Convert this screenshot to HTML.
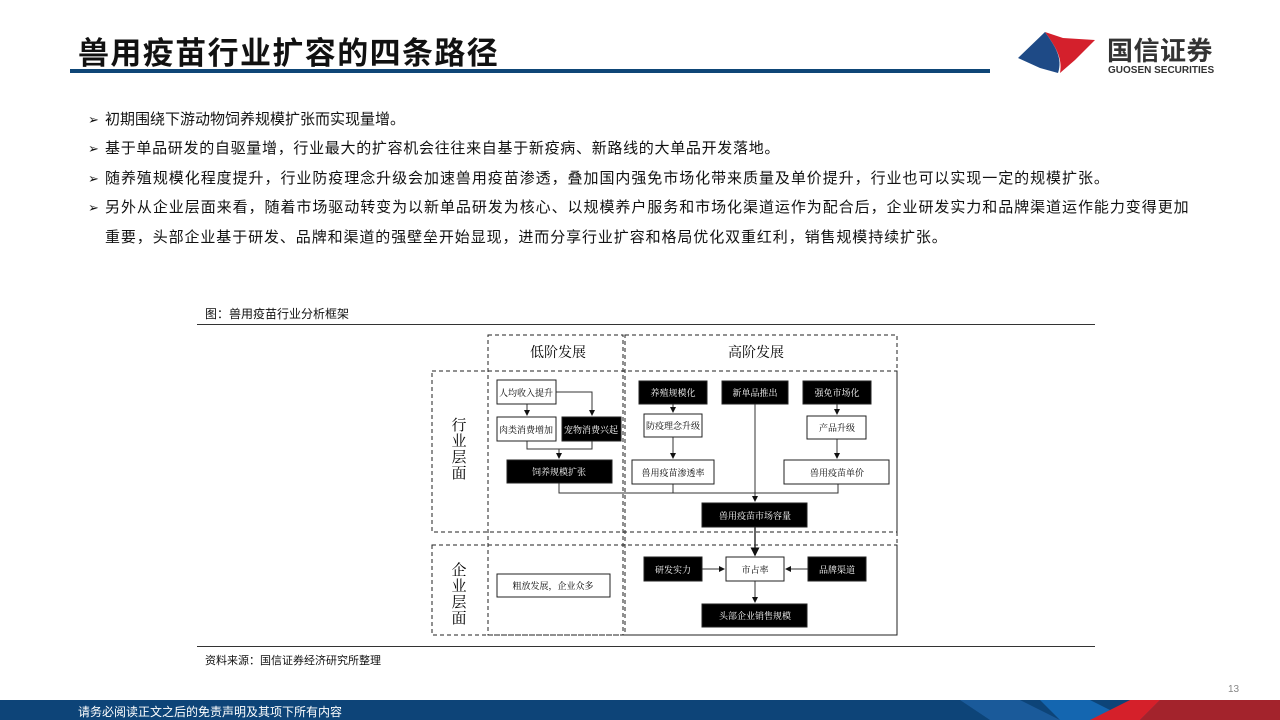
<!DOCTYPE html>
<html><head><meta charset="utf-8"><style>
*{margin:0;padding:0}
body{width:1280px;height:720px;position:relative;background:#fff;overflow:hidden;font-family:"Liberation Sans","Noto Sans CJK SC",sans-serif;color:#111}
.a{position:absolute;white-space:nowrap}
.b{font-size:15px;left:88px}
.b span{display:inline-block;width:17px;font-size:13px}
</style></head><body>
<div class="a" style="left:78px;top:28px;font-size:31px;font-weight:bold;letter-spacing:1.4px">兽用疫苗行业扩容的四条路径</div>
<div class="a" style="left:70px;top:69px;width:920px;height:4px;background:#0e4677"></div>
<svg class="a" style="left:1015px;top:28px" width="85" height="50" viewBox="0 0 85 50">
<path d="M30 4 L48 10 L80 12 L60 32 L45 45 C48 30 40 18 30 4Z" fill="#d4202c"/>
<path d="M30 4 C40 18 48 30 43 45 L25 40 L3 30Z" fill="#1e4a86"/>
</svg>
<div class="a" style="left:1107px;top:31px;font-size:26px;font-weight:bold;color:#333;letter-spacing:0.5px">国信证券</div>
<div class="a" style="left:1108px;top:65px;font-size:10px;font-weight:bold;color:#333">GUOSEN SECURITIES</div>
<div class="a b" style="top:108px"><span>➢</span>初期围绕下游动物饲养规模扩张而实现量增。</div>
<div class="a b" style="top:137px;letter-spacing:0.7px"><span>➢</span>基于单品研发的自驱量增，行业最大的扩容机会往往来自基于新疫病、新路线的大单品开发落地。</div>
<div class="a b" style="top:167px;letter-spacing:0.95px"><span>➢</span>随养殖规模化程度提升，行业防疫理念升级会加速兽用疫苗渗透，叠加国内强免市场化带来质量及单价提升，行业也可以实现一定的规模扩张。</div>
<div class="a b" style="top:196px;letter-spacing:0.95px"><span>➢</span>另外从企业层面来看，随着市场驱动转变为以新单品研发为核心、以规模养户服务和市场化渠道运作为配合后，企业研发实力和品牌渠道运作能力变得更加</div>
<div class="a b" style="top:226px;left:105px;letter-spacing:0.9px">重要，头部企业基于研发、品牌和渠道的强壁垒开始显现，进而分享行业扩容和格局优化双重红利，销售规模持续扩张。</div>
<div class="a" style="left:205px;top:305px;font-size:12px">图：兽用疫苗行业分析框架</div>
<div class="a" style="left:197px;top:324px;width:898px;height:1px;background:#333"></div>
<div class="a" style="left:197px;top:646px;width:898px;height:1px;background:#333"></div>
<div class="a" style="left:205px;top:652px;font-size:11px">资料来源：国信证券经济研究所整理</div>
<svg class="a" style="left:0;top:0" width="1280" height="720" font-family="Liberation Serif,Noto Serif CJK SC,serif">
<defs><marker id="m" markerWidth="6" markerHeight="6" refX="5" refY="3" orient="auto"><path d="M0,0 L6,3 L0,6Z" fill="#111"/></marker></defs>
<g fill="none" stroke="#222" stroke-dasharray="4,3" stroke-width="1">
<rect x="488" y="335" width="135" height="300"/>
<rect x="625" y="335" width="272" height="300"/>
<rect x="432" y="371" width="465" height="161"/>
<rect x="432" y="545" width="465" height="90"/>
</g>
<text x="558" y="357" font-size="14" text-anchor="middle">低阶发展</text>
<text x="756" y="357" font-size="14" text-anchor="middle">高阶发展</text>
<g font-size="15" text-anchor="middle"><text x="459" y="430">行</text><text x="459" y="446">业</text><text x="459" y="462">层</text><text x="459" y="478">面</text>
<text x="459" y="575">企</text><text x="459" y="591">业</text><text x="459" y="607">层</text><text x="459" y="623">面</text></g>
<g stroke="#333" stroke-width="1" fill="none">
<path d="M556 392 H592 V415" marker-end="url(#m)"/>
<path d="M527 404 V415" marker-end="url(#m)"/>
<path d="M527 441 V449 H592 V441 M559 449 V458" marker-end="url(#m)"/>
<path d="M673 404 V412" marker-end="url(#m)"/>
<path d="M673 437 V458" marker-end="url(#m)"/>
<path d="M837 404 V414" marker-end="url(#m)"/>
<path d="M837 439 V458" marker-end="url(#m)"/>
<path d="M559 483 V493 H838 V484 M673 484 V493"/>
<path d="M755 404 V501" marker-end="url(#m)"/>
<path d="M755 527 V555" stroke-width="1.5" marker-end="url(#m)"/>
<path d="M702 569 H724" marker-end="url(#m)"/>
<path d="M808 569 H786" marker-end="url(#m)"/>
<path d="M755 581 V602" marker-end="url(#m)"/>
</g>
<g stroke="#222" stroke-width="1">
<rect x="497" y="380" width="59" height="24" fill="#fff"/>
<rect x="497" y="417" width="59" height="24" fill="#fff"/>
<rect x="562" y="417" width="59" height="24" fill="#000"/>
<rect x="507" y="460" width="105" height="23" fill="#000"/>
<rect x="639" y="381" width="68" height="23" fill="#000"/>
<rect x="644" y="414" width="58" height="23" fill="#fff"/>
<rect x="632" y="460" width="82" height="24" fill="#fff"/>
<rect x="722" y="381" width="66" height="23" fill="#000"/>
<rect x="803" y="381" width="68" height="23" fill="#000"/>
<rect x="807" y="416" width="59" height="23" fill="#fff"/>
<rect x="784" y="460" width="105" height="24" fill="#fff"/>
<rect x="702" y="503" width="105" height="24" fill="#000"/>
<rect x="726" y="557" width="58" height="24" fill="#fff"/>
<rect x="644" y="557" width="58" height="24" fill="#000"/>
<rect x="808" y="557" width="58" height="24" fill="#000"/>
<rect x="702" y="604" width="105" height="23" fill="#000"/>
<rect x="497" y="574" width="113" height="23" fill="#fff"/>
</g>
<g font-size="9" text-anchor="middle">
<text x="526" y="396">人均收入提升</text>
<text x="526" y="433">肉类消费增加</text>
<text x="591" y="433" fill="#fff">宠物消费兴起</text>
<text x="559" y="475" fill="#fff">饲养规模扩张</text>
<text x="673" y="396" fill="#fff">养殖规模化</text>
<text x="673" y="429">防疫理念升级</text>
<text x="673" y="476">兽用疫苗渗透率</text>
<text x="755" y="396" fill="#fff">新单品推出</text>
<text x="837" y="396" fill="#fff">强免市场化</text>
<text x="837" y="431">产品升级</text>
<text x="837" y="476">兽用疫苗单价</text>
<text x="755" y="519" fill="#fff">兽用疫苗市场容量</text>
<text x="755" y="573">市占率</text>
<text x="673" y="573" fill="#fff">研发实力</text>
<text x="837" y="573" fill="#fff">品牌渠道</text>
<text x="755" y="619" fill="#fff">头部企业销售规模</text>
<text x="553" y="589">粗放发展，企业众多</text>
</g>
</svg>
<div class="a" style="left:1228px;top:684px;font-size:10px;color:#888">13</div>
<svg class="a" style="left:0;top:700px" width="1280" height="20">
<rect width="1280" height="20" fill="#0d4478"/>
<polygon points="960,0 1020,0 1060,20 990,20" fill="#1a5a9a"/>
<polygon points="1040,0 1090,0 1130,20 1060,20" fill="#1466b0"/>
<polygon points="1160,0 1280,0 1280,20 1140,20" fill="#a3232c"/>
<polygon points="1130,0 1160,0 1140,20 1090,20" fill="#d5202a"/>
</svg>
<div class="a" style="left:78px;top:703px;font-size:12px;color:#fff">请务必阅读正文之后的免责声明及其项下所有内容</div>
</body></html>
